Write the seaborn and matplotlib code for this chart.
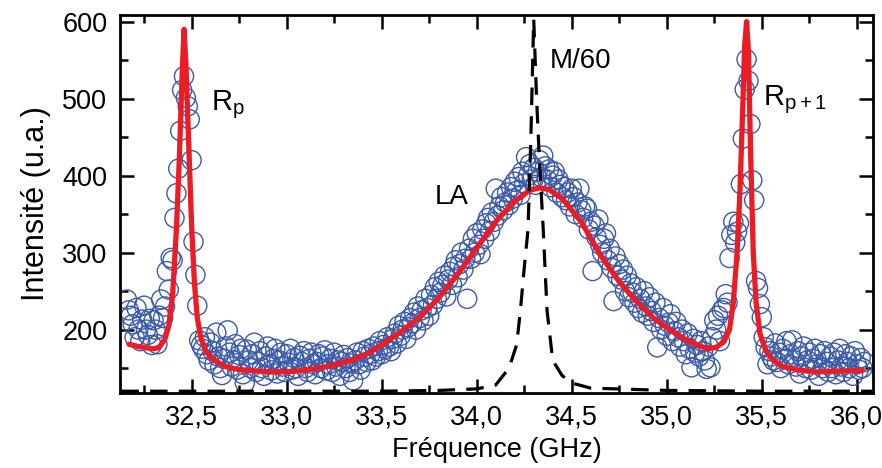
import numpy as np
import pandas as pd
import matplotlib
matplotlib.use("Agg")
import matplotlib.pyplot as plt
from matplotlib.ticker import MultipleLocator, FixedLocator
import seaborn as sns

# ---------------- data ----------------
# measured intensity, one value every 0.01 GHz starting at 32.16 GHz
freq_start = 32.16
freq_step = 0.01
intensity = [
    239, 225, 218, 207, 190, 228, 200, 185, 213, 231,   # 32.16
    200, 193, 214, 180, 212, 200, 181, 218, 239, 215,   # 32.26
    230, 276, 252, 293, 290, 345, 377, 409, 458, 511,   # 32.36
    529, 501, 490, 473, 420, 314, 271, 231, 186, 180,   # 32.46
    175, 190, 168, 160, 183, 172, 155, 196, 165, 150,   # 32.56
    141, 162, 178, 199, 170, 152, 160, 181, 148, 167,   # 32.66
    175, 142, 131, 174, 160, 150, 168, 183, 145, 158,   # 32.76
    172, 150, 140, 165, 178, 155, 147, 162, 175, 143,   # 32.86
    160, 170, 152, 145, 168, 157, 175, 148, 163, 150,   # 32.96
    140, 166, 158, 172, 150, 145, 162, 170, 155, 142,   # 33.06
    158, 168, 150, 165, 173, 147, 155, 162, 145, 170,   # 33.16
    152, 160, 140, 158, 167, 150, 163, 145, 156, 134,   # 33.26
    160, 170, 155, 148, 172, 165, 158, 175, 168, 160,   # 33.36
    178, 165, 172, 185, 168, 180, 175, 190, 178, 172,   # 33.46
    188, 195, 182, 205, 192, 200, 210, 188, 203, 215,   # 33.56
    208, 222, 200, 230, 215, 225, 212, 240, 228, 218,   # 33.66
    245, 232, 255, 240, 262, 248, 258, 270, 243, 265,   # 33.76
    275, 258, 282, 290, 268, 285, 300, 278, 292, 240,   # 33.86
    305, 292, 318, 300, 325, 310, 298, 330, 318, 338,   # 33.96
    345, 328, 352, 340, 383, 348, 360, 372, 355, 365,   # 34.06
    378, 362, 385, 370, 392, 380, 398, 375, 405, 390,   # 34.16
    424, 400, 415, 395, 410, 388, 405, 420, 398, 426,   # 34.26
    412, 395, 408, 385, 400, 405, 378, 395, 388, 372,   # 34.36
    385, 368, 378, 360, 383, 372, 350, 365, 383, 355,   # 34.46
    345, 360, 357, 330, 340, 276, 335, 320, 343, 310,   # 34.56
    300, 318, 325, 290, 305, 280, 237, 295, 270, 285,   # 34.66
    265, 278, 250, 270, 242, 260, 248, 235, 255, 228,   # 34.76
    240, 222, 250, 230, 218, 242, 224, 210, 235, 177,   # 34.86
    215, 200, 228, 205, 192, 209, 220, 185, 198, 210,   # 34.96
    190, 178, 200, 185, 168, 195, 175, 151, 188, 170,   # 35.06
    180, 165, 185, 172, 160, 149, 178, 151, 190, 212,   # 35.16
    200, 218, 185, 225, 228, 246, 235, 293, 323, 340,   # 35.26
    313, 327, 338, 389, 448, 512, 551, 523, 467, 394,   # 35.36
    368, 263, 254, 233, 216, 190, 177, 155, 172, 165,   # 35.46
    160, 182, 158, 170, 150, 175, 162, 185, 155, 168,   # 35.56
    186, 160, 152, 172, 143, 165, 178, 150, 160, 170,   # 35.66
    148, 162, 175, 155, 140, 168, 150, 172, 158, 145,   # 35.76
    165, 150, 170, 142, 160, 175, 152, 145, 168, 158,   # 35.86
    150, 165, 140, 172, 155, 148, 163, 150, 158,        # 35.96
]
freq = np.round(freq_start + freq_step * np.arange(len(intensity)), 2)

# fitted curve (red)
fit_freq = [32.17, 32.22, 32.27, 32.30, 32.33, 32.36, 32.38, 32.40, 32.42, 32.435,
            32.45, 32.46, 32.47, 32.485, 32.50, 32.515, 32.53, 32.55, 32.58, 32.62,
            32.68, 32.75, 32.85, 32.95, 33.05, 33.15, 33.25, 33.35, 33.42, 33.50,
            33.60, 33.70, 33.80, 33.90, 34.00, 34.10, 34.20, 34.28, 34.33, 34.38,
            34.45, 34.55, 34.65, 34.75, 34.84, 34.93, 35.02, 35.10, 35.17, 35.22,
            35.26, 35.30, 35.33, 35.35, 35.37, 35.385, 35.40, 35.41, 35.42, 35.43,
            35.44, 35.455, 35.47, 35.49, 35.52, 35.56, 35.61, 35.70, 35.79, 35.90,
            36.03]
fit_int = [181, 178, 176, 175, 177, 188, 205, 245, 330, 420,
           530, 590, 545, 440, 335, 260, 215, 188, 170, 160,
           152, 148, 146, 145, 146, 149, 154, 161, 168, 180,
           197, 216, 241, 272, 306, 340, 367, 381, 384, 382,
           370, 340, 297, 262, 237, 215, 199, 187, 179, 175,
           177, 184, 200, 235, 300, 380, 490, 570, 600, 560,
           440, 300, 235, 195, 173, 160, 152, 147, 145, 146,
           147]

# M/60 curve (black dashed)
m_freq = [32.13, 32.50, 33.00, 33.50, 33.80, 34.00, 34.10, 34.17, 34.21, 34.23,
          34.25, 34.27, 34.285, 34.30, 34.315, 34.33, 34.35, 34.37, 34.40, 34.45,
          34.51, 34.60, 35.00, 35.50, 36.08]
m_int = [120, 120, 120, 120, 121, 123, 128, 150, 180, 225,
         280, 330, 450, 603, 500, 420, 330, 225, 160, 140,
         130, 124, 121, 120, 120]

xtick_values = [32.5, 33.0, 33.5, 34.0, 34.5, 35.0, 35.5, 36.0]
xtick_labels = ["32,5", "33,0", "33,5", "34,0", "34,5", "35,0", "35,5", "36,0"]
ytick_values = [200, 300, 400, 500, 600]
ytick_labels = ["200", "300", "400", "500", "600"]

# ---------------- style ----------------
sns.set_style("ticks")
plt.rcParams["font.family"] = ["Liberation Sans", "DejaVu Sans"]
plt.rcParams["mathtext.fontset"] = "custom"
plt.rcParams["mathtext.rm"] = "Liberation Sans"
plt.rcParams["mathtext.it"] = "Liberation Sans"
for k in ["text.color", "axes.labelcolor", "xtick.color", "ytick.color"]:
    plt.rcParams[k] = "black"

BLUE = "#3a5aaa"
RED = "#ec1c24"

fig = plt.figure(figsize=(8.82, 4.68), dpi=100)
ax = fig.add_axes([0.136, 0.160, 0.990 - 0.136, 0.968 - 0.160])

df_meas = pd.DataFrame({"f": freq, "I": intensity})
df_fit = pd.DataFrame({"f": fit_freq, "I": fit_int})
df_m = pd.DataFrame({"f": m_freq, "I": m_int})

sns.scatterplot(data=df_meas, x="f", y="I", ax=ax, marker="o", s=190,
                facecolors="none", edgecolor=BLUE, linewidth=1.0, zorder=2,
                legend=False)
sns.lineplot(data=df_fit, x="f", y="I", ax=ax, color=RED, linewidth=3.8,
             estimator=None, sort=False, zorder=3, legend=False,
             solid_joinstyle="round", solid_capstyle="round")
sns.lineplot(data=df_m, x="f", y="I", ax=ax, color="black", linewidth=2.3,
             estimator=None, sort=False, zorder=4, legend=False,
             dashes=False, linestyle=(0, (5.5, 3.5)))

ax.set_xlim(32.123, 36.086)
ax.set_ylim(117.5, 608.6)

ax.xaxis.set_major_locator(FixedLocator(xtick_values))
ax.set_xticklabels(xtick_labels)
ax.xaxis.set_minor_locator(MultipleLocator(0.25))
ax.yaxis.set_major_locator(FixedLocator(ytick_values))
ax.set_yticklabels(ytick_labels)
ax.yaxis.set_minor_locator(MultipleLocator(50))

for s in ax.spines.values():
    s.set_visible(True)
    s.set_linewidth(2.0)
    s.set_color("black")
    s.set_zorder(5)

ax.tick_params(which="both", direction="in", top=True, right=True,
               width=1.8, color="black")
ax.tick_params(which="major", length=10, labelsize=19.5, pad=8)
ax.tick_params(which="minor", length=5.5)
ax.tick_params(axis="y", which="major", pad=9)

ax.set_xlabel("Fréquence (GHz)", fontsize=19.5, labelpad=5)
ax.set_ylabel("Intensité (u.a.)", fontsize=22, labelpad=8)

ax.text(32.60, 485, r"$\mathregular{R_p}$", fontsize=21, ha="left", va="baseline")
ax.text(35.507, 491, r"$\mathregular{R_{p+1}}$", fontsize=21, ha="left", va="baseline")
ax.text(34.386, 540, "M/60", fontsize=20, ha="left", va="baseline")
ax.text(33.78, 362.5, "LA", fontsize=20, ha="left", va="baseline")

fig.savefig("out.png", dpi=100)
